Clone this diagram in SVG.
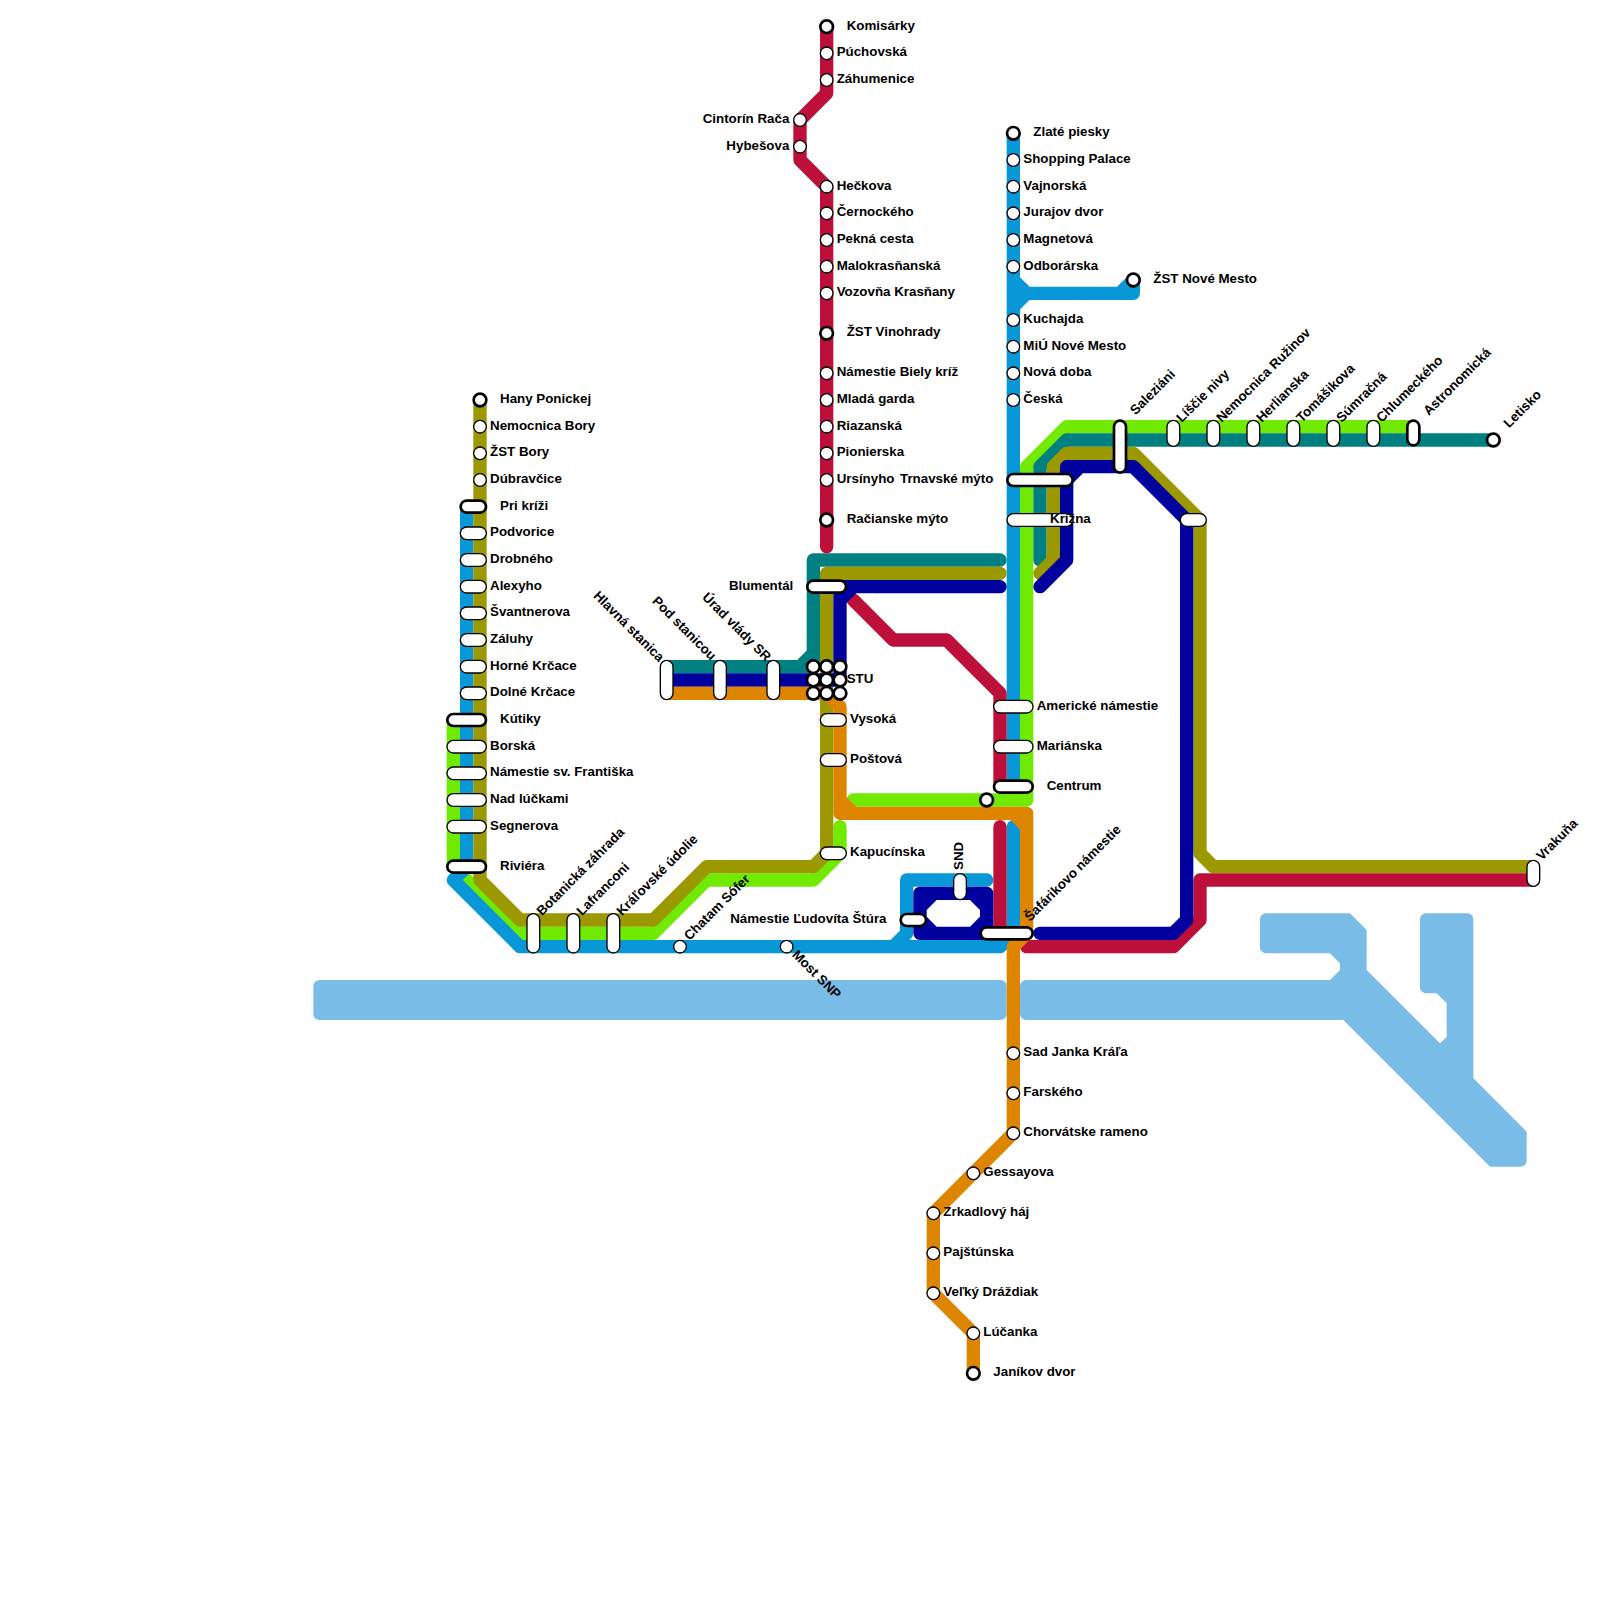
<svg xmlns="http://www.w3.org/2000/svg" width="1600" height="1600" viewBox="0 0 1600 1600">
<style>
text{font-family:"Liberation Sans",Arial,sans-serif;font-weight:bold;font-size:13.33px;fill:#000}
.e{text-anchor:end}
.c{fill:#fff;stroke:#000;stroke-width:1.33}
.t{fill:#fff;stroke:#000;stroke-width:2.67}
.river{fill:#7abce8}
.ln{fill:none;stroke-width:1;stroke-linecap:round;stroke-linejoin:round}
.green{stroke:#70ea00}.lblue{stroke:#0898d8}.teal{stroke:#008080}.olive{stroke:#9c9900}.red{stroke:#bc103a}.dblue{stroke:#00009e}.orange{stroke:#de8500}
</style>
<rect width="1600" height="1600" fill="#fff"/>
<g id="river">
<rect class="river" x="313.33" y="980" width="693.33" height="40" rx="6"/>
<path class="river" d="M1266,913.33H1350L1366.67,930V970L1440,1043.33L1446.67,1036.67V1003.33L1436.67,993.33H1426A6,6 0 0 1 1420,987.33V919.33A6,6 0 0 1 1426,913.33H1467.33A6,6 0 0 1 1473.33,919.33V1078.33L1526.67,1131.67V1160.67A6,6 0 0 1 1520.67,1166.67H1490L1343.33,1020H1026A6,6 0 0 1 1020,1014V986A6,6 0 0 1 1026,980H1330L1340,970V963.33L1330,953.33H1266A6,6 0 0 1 1260,947.33V919.33A6,6 0 0 1 1266,913.33Z"/>
</g>
<g id="connectors" transform="scale(13.33333)">
<path class="ln green" d="M106,32H80L77,35V60H64"/>
<path class="ln green" d="M34,54V65M35,66L39,70H49L53,66H61L63,64V62"/>
<path class="ln lblue" d="M76,10V59M76,21L77,22H85V21M84,22L85,21M76,23L77,22"/>
<path class="ln lblue" d="M35,38V65L34,66L39,71H75L76,70V62M74,66H68V70L67,71"/>
<path class="ln teal" d="M75,42H61V50H50M60,50L61,49"/>
<path class="ln teal" d="M78,42V35L80,33H112"/>
<path class="ln olive" d="M75,43H62V64L61,65H53L49,69H39L36,66V30"/>
<path class="ln olive" d="M78,43L79,42V35L80,34H85L90,39V64L91,65H115"/>
<path class="ln red" d="M62,41V14L60,12V9L62,7V2"/>
<path class="ln red" d="M64,45L67,48H71L75,52V59"/>
<path class="ln red" d="M75,62V70"/>
<path class="ln red" d="M115,66H90V69L88,71H77"/>
<path class="ln dblue" d="M75,44H63V51H50M63,45L64,44"/>
<path class="ln dblue" d="M78,44L80,42V35H85L89,39V69L88,70H78M80,36L81,35"/>
<path fill="#00009e" fill-rule="evenodd" d="M69,66.5H74A.5,.5 0 0 1 74.5,67V70A.5,.5 0 0 1 74,70.5H69A.5,.5 0 0 1 68.5,70V67A.5,.5 0 0 1 69,66.5ZM69.5,68.25L70.25,67.5H72.75L73.5,68.25V68.75L72.75,69.5H70.25L69.5,68.75Z"/>
<path class="ln orange" d="M50,52H62L63,53V61H77V70L76,71V85L70,91V97L73,100V103M63,60L64,61M76,61L77,62"/>
</g>
<g id="stations">
<g id="s-komisarky"><circle class="t" cx="826.67" cy="26.67" r="6.33"/><text x="846.67" y="29.67">Komisárky</text></g>
<g id="s-puchovska"><circle class="c" cx="826.67" cy="53.33" r="6.33"/><text x="836.67" y="56.33">Púchovská</text></g>
<g id="s-zahumenice"><circle class="c" cx="826.67" cy="80" r="6.33"/><text x="836.67" y="83">Záhumenice</text></g>
<g id="s-cintorin"><circle class="c" cx="800" cy="120" r="6.33"/><text class="e" x="789.33" y="123">Cintorín Rača</text></g>
<g id="s-hybesova"><circle class="c" cx="800" cy="146.67" r="6.33"/><text class="e" x="789.33" y="149.67">Hybešova</text></g>
<g id="s-heckova"><circle class="c" cx="826.67" cy="186.67" r="6.33"/><text x="836.67" y="189.67">Hečkova</text></g>
<g id="s-cernockeho"><circle class="c" cx="826.67" cy="213.33" r="6.33"/><text x="836.67" y="216.33">Černockého</text></g>
<g id="s-pekna"><circle class="c" cx="826.67" cy="240" r="6.33"/><text x="836.67" y="243">Pekná cesta</text></g>
<g id="s-malokrasnanska"><circle class="c" cx="826.67" cy="266.67" r="6.33"/><text x="836.67" y="269.67">Malokrasňanská</text></g>
<g id="s-vozovna"><circle class="c" cx="826.67" cy="293.33" r="6.33"/><text x="836.67" y="296.33">Vozovňa Krasňany</text></g>
<g id="s-vinohrady"><circle class="t" cx="826.67" cy="333.33" r="6.33"/><text x="846.67" y="336.33">ŽST Vinohrady</text></g>
<g id="s-biely-kriz"><circle class="c" cx="826.67" cy="373.33" r="6.33"/><text x="836.67" y="376.33">Námestie Biely kríž</text></g>
<g id="s-mlada"><circle class="c" cx="826.67" cy="400" r="6.33"/><text x="836.67" y="403">Mladá garda</text></g>
<g id="s-riazanska"><circle class="c" cx="826.67" cy="426.67" r="6.33"/><text x="836.67" y="429.67">Riazanská</text></g>
<g id="s-pionierska"><circle class="c" cx="826.67" cy="453.33" r="6.33"/><text x="836.67" y="456.33">Pionierska</text></g>
<g id="s-ursinyho"><circle class="c" cx="826.67" cy="480" r="6.33"/><text x="836.67" y="483">Ursínyho</text></g>
<g id="s-racianske"><circle class="t" cx="826.67" cy="520" r="6.33"/><text x="846.67" y="523">Račianske mýto</text></g>

<g id="s-zlate"><circle class="t" cx="1013.33" cy="133.33" r="6.33"/><text x="1033.33" y="136.33">Zlaté piesky</text></g>
<g id="s-shopping"><circle class="c" cx="1013.33" cy="160" r="6.33"/><text x="1023.33" y="163">Shopping Palace</text></g>
<g id="s-vajnorska"><circle class="c" cx="1013.33" cy="186.67" r="6.33"/><text x="1023.33" y="189.67">Vajnorská</text></g>
<g id="s-jurajov"><circle class="c" cx="1013.33" cy="213.33" r="6.33"/><text x="1023.33" y="216.33">Jurajov dvor</text></g>
<g id="s-magnetova"><circle class="c" cx="1013.33" cy="240" r="6.33"/><text x="1023.33" y="243">Magnetová</text></g>
<g id="s-odborarska"><circle class="c" cx="1013.33" cy="266.67" r="6.33"/><text x="1023.33" y="269.67">Odborárska</text></g>
<g id="s-nove-mesto"><circle class="t" cx="1133.33" cy="280" r="6.33"/><text x="1153.33" y="283">ŽST Nové Mesto</text></g>
<g id="s-kuchajda"><circle class="c" cx="1013.33" cy="320" r="6.33"/><text x="1023.33" y="323">Kuchajda</text></g>
<g id="s-miu"><circle class="c" cx="1013.33" cy="346.67" r="6.33"/><text x="1023.33" y="349.67">MiÚ Nové Mesto</text></g>
<g id="s-nova-doba"><circle class="c" cx="1013.33" cy="373.33" r="6.33"/><text x="1023.33" y="376.33">Nová doba</text></g>
<g id="s-ceska"><circle class="c" cx="1013.33" cy="400" r="6.33"/><text x="1023.33" y="403">Česká</text></g>
<g id="s-trnavske"><rect class="t" x="1007.33" y="474" width="65.33" height="12" rx="6"/><text class="e" x="993.33" y="483">Trnavské mýto</text></g>
<g id="s-krizna"><rect class="c" x="1007" y="513.67" width="66" height="12.67" rx="6.33"/><rect class="c" x="1180.33" y="513.67" width="26" height="12.67" rx="6.33"/><text x="1050" y="523">Krížna</text></g>
<g id="s-americke"><rect class="c" x="993.67" y="700.33" width="39.33" height="12.67" rx="6.33"/><text x="1036.67" y="709.67">Americké námestie</text></g>
<g id="s-marianska"><rect class="c" x="993.67" y="740.33" width="39.33" height="12.67" rx="6.33"/><text x="1036.67" y="749.67">Mariánska</text></g>
<g id="s-centrum"><circle class="t" cx="986.67" cy="800" r="6.33"/><rect class="t" x="994" y="780.67" width="38.67" height="12" rx="6"/><text x="1046.67" y="789.67">Centrum</text></g>
<g id="s-safarikovo"><rect class="t" x="980.67" y="927.33" width="52" height="12" rx="6"/><text transform="translate(1030,922) rotate(-45)">Šafárikovo námestie</text></g>

<g id="s-sad"><circle class="c" cx="1013.33" cy="1053.33" r="6.33"/><text x="1023.33" y="1056.33">Sad Janka Kráľa</text></g>
<g id="s-farskeho"><circle class="c" cx="1013.33" cy="1093.33" r="6.33"/><text x="1023.33" y="1096.33">Farského</text></g>
<g id="s-chorvatske"><circle class="c" cx="1013.33" cy="1133.33" r="6.33"/><text x="1023.33" y="1136.33">Chorvátske rameno</text></g>
<g id="s-gessayova"><circle class="c" cx="973.33" cy="1173.33" r="6.33"/><text x="983.33" y="1176.33">Gessayova</text></g>
<g id="s-zrkadlovy"><circle class="c" cx="933.33" cy="1213.33" r="6.33"/><text x="943.33" y="1216.33">Zrkadlový háj</text></g>
<g id="s-pajstunska"><circle class="c" cx="933.33" cy="1253.33" r="6.33"/><text x="943.33" y="1256.33">Pajštúnska</text></g>
<g id="s-drazdiak"><circle class="c" cx="933.33" cy="1293.33" r="6.33"/><text x="943.33" y="1296.33">Veľký Dráždiak</text></g>
<g id="s-lucanka"><circle class="c" cx="973.33" cy="1333.33" r="6.33"/><text x="983.33" y="1336.33">Lúčanka</text></g>
<g id="s-janikov"><circle class="t" cx="973.33" cy="1373.33" r="6.33"/><text x="993.33" y="1376.33">Janíkov dvor</text></g>

<g id="s-blumental"><rect class="t" x="807.33" y="580.67" width="38.67" height="12" rx="6"/><text class="e" x="793.33" y="589.67">Blumentál</text></g>
<g id="s-stu">
<circle class="t" cx="813.33" cy="666.67" r="6.33"/><circle class="t" cx="826.67" cy="666.67" r="6.33"/><circle class="t" cx="840" cy="666.67" r="6.33"/>
<circle class="t" cx="813.33" cy="680" r="6.33"/><circle class="t" cx="826.67" cy="680" r="6.33"/><circle class="t" cx="840" cy="680" r="6.33"/>
<circle class="t" cx="813.33" cy="693.33" r="6.33"/><circle class="t" cx="826.67" cy="693.33" r="6.33"/><circle class="t" cx="840" cy="693.33" r="6.33"/>
<text x="846.67" y="683">STU</text></g>
<g id="s-hlavna"><rect class="c" x="660.33" y="660.33" width="12.67" height="39.33" rx="6.33"/><text class="e" transform="translate(658.8,662.5) rotate(45)">Hlavná stanica</text></g>
<g id="s-pod-stanicou"><rect class="c" x="713.67" y="660.33" width="12.67" height="39.33" rx="6.33"/><text class="e" transform="translate(710.7,661) rotate(45)">Pod stanicou</text></g>
<g id="s-urad"><rect class="c" x="767" y="660.33" width="12.67" height="39.33" rx="6.33"/><text class="e" transform="translate(765.5,662) rotate(45)">Úrad vlády SR</text></g>
<g id="s-vysoka"><rect class="c" x="820.33" y="713.67" width="26" height="12.67" rx="6.33"/><text x="850" y="723">Vysoká</text></g>
<g id="s-postova"><rect class="c" x="820.33" y="753.67" width="26" height="12.67" rx="6.33"/><text x="850" y="763">Poštová</text></g>
<g id="s-kapucinska"><rect class="c" x="820.33" y="847" width="26" height="12.67" rx="6.33"/><text x="850" y="856.33">Kapucínska</text></g>
<g id="s-snd"><rect class="c" x="953.67" y="873.67" width="12.67" height="26" rx="6.33"/><text transform="translate(962.5,870) rotate(-90)">SND</text></g>
<g id="s-stura"><rect class="t" x="900.67" y="914" width="25.33" height="12" rx="6"/><text class="e" x="886.5" y="923">Námestie Ľudovíta Štúra</text></g>
<g id="s-most"><circle class="c" cx="786.67" cy="946.67" r="6.33"/><text transform="translate(791.5,955.5) rotate(45)">Most SNP</text></g>
<g id="s-chatam"><circle class="c" cx="680" cy="946.67" r="6.33"/><text transform="translate(689.5,941) rotate(-45)">Chatam Sófer</text></g>
<g id="s-botanicka"><rect class="c" x="527" y="913.67" width="12.67" height="39.33" rx="6.33"/><text transform="translate(542,916.33) rotate(-45)">Botanická záhrada</text></g>
<g id="s-lafranconi"><rect class="c" x="567" y="913.67" width="12.67" height="39.33" rx="6.33"/><text transform="translate(582,916.33) rotate(-45)">Lafranconi</text></g>
<g id="s-kralovske"><rect class="c" x="607" y="913.67" width="12.67" height="39.33" rx="6.33"/><text transform="translate(622,916.33) rotate(-45)">Kráľovské údolie</text></g>

<g id="s-hany"><circle class="t" cx="480" cy="400" r="6.33"/><text x="500" y="403">Hany Ponickej</text></g>
<g id="s-nem-bory"><circle class="c" cx="480" cy="426.67" r="6.33"/><text x="490" y="429.67">Nemocnica Bory</text></g>
<g id="s-zst-bory"><circle class="c" cx="480" cy="453.33" r="6.33"/><text x="490" y="456.33">ŽST Bory</text></g>
<g id="s-dubravcice"><circle class="c" cx="480" cy="480" r="6.33"/><text x="490" y="483">Dúbravčice</text></g>
<g id="s-pri-krizi"><rect class="t" x="460.67" y="500.67" width="25.33" height="12" rx="6"/><text x="500" y="509.67">Pri kríži</text></g>
<g id="s-podvorice"><rect class="c" x="460.33" y="527" width="26" height="12.67" rx="6.33"/><text x="490" y="536.33">Podvorice</text></g>
<g id="s-drobneho"><rect class="c" x="460.33" y="553.67" width="26" height="12.67" rx="6.33"/><text x="490" y="563">Drobného</text></g>
<g id="s-alexyho"><rect class="c" x="460.33" y="580.33" width="26" height="12.67" rx="6.33"/><text x="490" y="589.67">Alexyho</text></g>
<g id="s-svantnerova"><rect class="c" x="460.33" y="607" width="26" height="12.67" rx="6.33"/><text x="490" y="616.33">Švantnerova</text></g>
<g id="s-zaluhy"><rect class="c" x="460.33" y="633.67" width="26" height="12.67" rx="6.33"/><text x="490" y="643">Záluhy</text></g>
<g id="s-horne"><rect class="c" x="460.33" y="660.33" width="26" height="12.67" rx="6.33"/><text x="490" y="669.67">Horné Krčace</text></g>
<g id="s-dolne"><rect class="c" x="460.33" y="687" width="26" height="12.67" rx="6.33"/><text x="490" y="696.33">Dolné Krčace</text></g>
<g id="s-kutiky"><rect class="t" x="447.33" y="714" width="38.67" height="12" rx="6"/><text x="500" y="723">Kútiky</text></g>
<g id="s-borska"><rect class="c" x="447" y="740.33" width="39.33" height="12.67" rx="6.33"/><text x="490" y="749.67">Borská</text></g>
<g id="s-frantiska"><rect class="c" x="447" y="767" width="39.33" height="12.67" rx="6.33"/><text x="490" y="776.33">Námestie sv. Františka</text></g>
<g id="s-nad-luckami"><rect class="c" x="447" y="793.67" width="39.33" height="12.67" rx="6.33"/><text x="490" y="803">Nad lúčkami</text></g>
<g id="s-segnerova"><rect class="c" x="447" y="820.33" width="39.33" height="12.67" rx="6.33"/><text x="490" y="829.67">Segnerova</text></g>
<g id="s-riviera"><rect class="t" x="447.33" y="860.67" width="38.67" height="12" rx="6"/><text x="500" y="869.67">Riviéra</text></g>

<g id="s-saleziani"><rect class="t" x="1114" y="420.67" width="12" height="52" rx="6"/><text transform="translate(1135.5,415.5) rotate(-45)">Saleziáni</text></g>
<g id="s-liscie"><rect class="c" x="1167" y="420.33" width="12.67" height="26" rx="6.33"/><text transform="translate(1181.8,423) rotate(-45)">Líščie nivy</text></g>
<g id="s-ruzinov"><rect class="c" x="1207" y="420.33" width="12.67" height="26" rx="6.33"/><text transform="translate(1221.8,423) rotate(-45)">Nemocnica Ružinov</text></g>
<g id="s-herlianska"><rect class="c" x="1247" y="420.33" width="12.67" height="26" rx="6.33"/><text transform="translate(1261.8,423) rotate(-45)">Herlianska</text></g>
<g id="s-tomasikova"><rect class="c" x="1287" y="420.33" width="12.67" height="26" rx="6.33"/><text transform="translate(1301.8,423) rotate(-45)">Tomášikova</text></g>
<g id="s-sumracna"><rect class="c" x="1327" y="420.33" width="12.67" height="26" rx="6.33"/><text transform="translate(1341.8,423) rotate(-45)">Súmračná</text></g>
<g id="s-chlumeckeho"><rect class="c" x="1367" y="420.33" width="12.67" height="26" rx="6.33"/><text transform="translate(1381.8,423) rotate(-45)">Chlumeckého</text></g>
<g id="s-astronomicka"><rect class="t" x="1407.33" y="420.67" width="12" height="24.67" rx="6"/><text transform="translate(1428.8,416) rotate(-45)">Astronomická</text></g>
<g id="s-letisko"><circle class="t" cx="1493.33" cy="440" r="6.33"/><text transform="translate(1509,428.5) rotate(-45)">Letisko</text></g>
<g id="s-vrakuna"><rect class="c" x="1527" y="860.33" width="12.67" height="26" rx="6.33"/><text transform="translate(1541.8,861) rotate(-45)">Vrakuňa</text></g>
</g>
</svg>
